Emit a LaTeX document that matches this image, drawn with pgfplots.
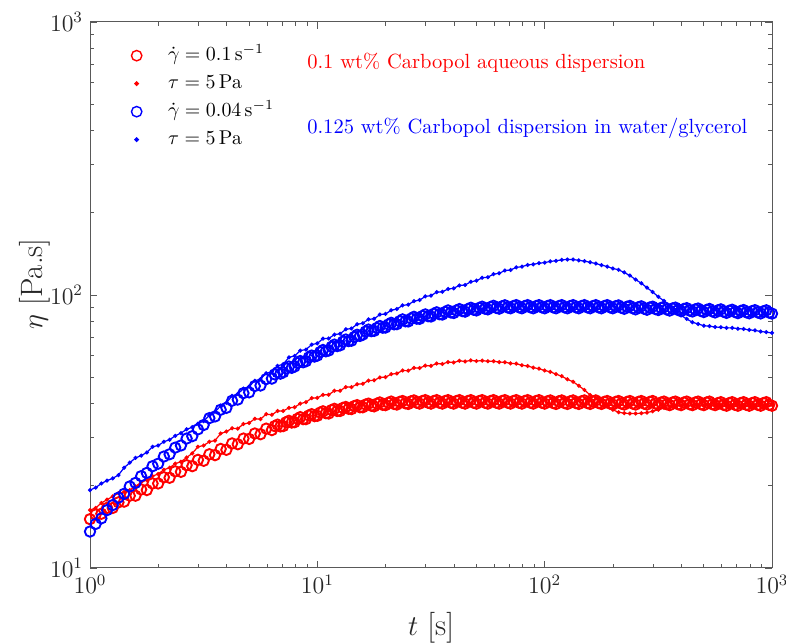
\documentclass[border=0pt]{standalone}
\usepackage{pgfplots}
\usepackage{pgfplotstable}
\pgfplotsset{compat=1.18}
\pgfplotstableread{
t rc rd bc bd
1.000 15.1 16.3 13.6 19.3
1.059 15.7 16.6 14.5 19.7
1.122 15.8 17.3 15.2 20.4
1.189 16.6 17.8 16.3 20.9
1.259 16.6 18.3 17.0 21.3
1.334 17.4 18.8 18.1 21.9
1.413 17.5 19.0 18.7 23.3
1.496 18.4 19.3 19.9 24.3
1.585 18.4 19.9 20.5 25.3
1.679 19.4 20.6 21.7 25.8
1.778 19.3 21.0 22.3 26.5
1.884 20.4 21.7 23.6 27.8
1.995 20.4 22.1 24.1 28.1
2.113 21.5 22.9 25.6 29.0
2.239 21.4 23.3 26.1 29.5
2.371 22.6 24.1 27.6 30.5
2.512 22.5 24.5 28.1 31.2
2.661 23.8 25.4 29.8 32.2
2.818 23.6 26.3 30.4 32.8
2.985 24.9 27.8 32.2 33.8
3.162 24.7 28.1 33.4 34.5
3.350 26.1 29.0 35.4 36.2
3.548 25.9 29.3 35.9 37.3
3.758 27.3 31.1 38.0 39.3
3.981 27.1 31.6 38.6 40.3
4.217 28.6 32.5 41.0 42.7
4.467 28.4 32.4 41.4 43.4
4.732 29.8 33.7 43.7 45.4
5.012 29.7 34.0 44.0 46.2
5.309 31.1 35.2 46.4 48.5
5.623 30.9 35.1 46.6 49.2
5.957 32.4 36.6 49.2 51.7
6.310 32.0 36.4 49.4 52.3
6.683 33.5 37.6 52.1 55.0
7.079 33.1 37.6 52.1 55.8
7.499 34.6 38.6 54.7 59.1
7.943 34.2 38.8 54.7 59.8
8.414 35.7 40.0 57.3 62.6
8.913 35.1 40.5 57.2 63.1
9.441 36.6 41.9 60.0 65.8
10.00 36.1 42.0 60.0 66.5
10.59 37.5 43.1 62.9 69.2
11.22 36.8 43.1 62.6 69.3
11.89 38.3 44.6 65.8 71.6
12.59 37.6 44.6 65.4 72.1
13.34 38.9 46.0 68.7 74.9
14.13 38.2 46.0 68.0 75.4
14.96 39.5 47.1 71.5 78.1
15.85 38.8 47.3 71.6 78.8
16.79 40.0 48.6 74.7 81.4
17.78 39.1 48.7 73.9 81.8
18.84 40.4 49.9 77.0 84.8
19.95 39.5 50.0 76.0 85.2
21.13 40.7 51.3 79.1 87.9
22.39 39.7 51.6 78.2 88.8
23.71 40.9 52.9 81.4 91.6
25.12 39.9 52.8 80.0 92.2
26.61 41.1 54.1 83.2 94.9
28.18 40.0 54.0 81.8 95.8
29.85 41.2 55.1 84.9 98.8
31.62 40.0 55.0 83.4 99.5
33.50 41.2 56.1 86.4 102.4
35.48 40.0 55.9 84.8 102.7
37.58 41.2 56.8 87.8 105.2
39.81 40.0 56.6 85.9 105.8
42.17 41.2 57.4 88.8 108.4
44.67 40.0 57.1 86.9 108.8
47.32 41.2 57.6 89.8 111.8
50.12 40.0 57.3 87.8 112.8
53.09 41.2 57.5 90.6 115.6
56.23 40.0 57.2 88.6 116.2
59.57 41.2 57.2 91.3 119.2
63.10 40.0 56.8 89.1 120.1
66.83 41.2 56.7 91.7 122.9
70.79 40.0 56.2 89.4 123.5
74.99 41.2 56.0 91.8 126.2
79.43 40.0 55.3 89.4 127.0
84.14 41.2 54.9 91.8 128.9
89.13 40.0 54.2 89.4 129.5
94.41 41.2 53.7 91.8 130.8
100.0 40.0 52.9 89.4 131.4
105.9 41.1 52.3 91.8 132.8
112.2 39.9 51.3 89.4 133.4
118.9 41.1 50.4 91.8 134.6
125.9 39.9 49.1 89.4 134.9
133.4 41.1 48.1 91.8 134.9
141.3 39.9 46.5 89.4 133.9
149.6 41.1 44.9 91.8 133.1
158.5 39.9 43.0 89.4 131.7
167.9 41.1 42.0 91.8 130.4
177.8 39.9 40.8 89.4 128.7
188.4 40.9 39.4 91.8 127.1
199.5 39.7 38.0 89.4 125.1
211.3 40.9 37.2 91.6 123.7
223.9 39.7 36.9 89.0 120.9
237.1 40.9 36.8 91.2 117.8
251.2 39.7 36.8 88.6 113.9
266.1 40.9 36.9 90.9 110.4
281.8 39.7 37.1 88.3 106.4
298.5 40.9 37.5 90.6 102.6
316.2 39.7 38.0 88.1 98.5
335.0 40.7 38.6 90.3 95.1
354.8 39.5 39.0 87.7 91.4
375.8 40.7 39.2 89.9 88.1
398.1 39.5 39.3 87.3 84.2
421.7 40.7 39.4 89.5 81.7
446.7 39.5 39.4 87.0 79.5
473.2 40.7 39.5 89.2 78.3
501.2 39.5 39.4 86.6 77.2
530.9 40.7 39.5 88.9 76.9
562.3 39.5 39.5 86.3 76.3
595.7 40.5 39.5 88.6 76.2
631.0 39.3 39.6 86.0 75.8
668.3 40.5 39.5 88.3 75.8
707.9 39.3 39.6 85.8 75.3
749.9 40.5 39.5 88.1 75.1
794.3 39.3 39.6 85.7 74.5
841.4 40.5 39.5 88.0 74.2
891.3 39.3 39.6 85.6 73.5
944.1 40.5 39.5 87.9 73.1
1000 39.3 39.6 85.5 72.6
}\datatable
\pgfplotstableread{
t rc bc
6.494 33.1 51.2
6.879 33.0 51.5
7.287 34.2 53.8
7.718 34.1 54.1
8.175 35.2 56.4
8.660 35.1 56.7
9.173 36.2 59.1
9.716 36.0 59.5
10.29 37.1 61.8
10.90 36.9 62.2
11.55 37.9 64.6
12.23 37.6 65.0
12.96 38.6 67.5
13.72 38.3 67.8
14.54 39.2 70.2
15.40 38.8 70.8
16.31 39.7 73.5
17.28 39.3 73.7
18.30 40.0 75.8
19.39 39.6 75.9
20.54 40.3 78.0
21.75 39.9 78.1
23.04 40.6 80.2
24.41 40.1 80.1
25.85 40.8 82.0
27.38 40.3 81.9
29.01 40.9 83.8
30.73 40.3 83.6
32.55 40.9 85.4
34.47 40.3 85.0
36.52 40.9 86.7
38.68 40.3 86.3
40.97 40.9 87.8
43.40 40.3 87.3
45.97 40.9 88.8
48.70 40.3 88.3
51.58 40.9 89.7
54.64 40.3 89.1
57.88 40.9 90.4
61.31 40.3 89.7
64.94 40.9 90.9
68.79 40.3 90.0
72.87 40.9 91.1
77.18 40.3 90.1
81.75 40.9 91.1
86.60 40.3 90.1
91.73 40.9 91.1
97.16 40.3 90.1
102.9 40.8 91.1
109.0 40.2 90.1
115.5 40.8 91.1
122.3 40.2 90.1
129.6 40.8 91.1
137.2 40.2 90.1
145.4 40.8 91.1
154.0 40.2 90.1
163.1 40.8 91.1
172.8 40.2 90.1
183.0 40.6 91.1
193.9 40.0 90.1
205.4 40.6 91.0
217.5 40.0 89.8
230.4 40.6 90.6
244.1 40.0 89.4
258.5 40.6 90.2
273.8 40.0 89.1
290.1 40.6 90.0
307.3 40.0 88.8
325.5 40.4 89.7
344.7 39.8 88.5
365.2 40.4 89.3
386.8 39.8 88.1
409.7 40.4 88.9
434.0 39.8 87.7
459.7 40.4 88.6
487.0 39.8 87.4
515.8 40.4 88.2
546.4 39.8 87.1
578.8 40.2 87.9
613.1 39.6 86.8
649.4 40.2 87.6
687.9 39.6 86.6
728.7 40.2 87.4
771.8 39.6 86.4
817.5 40.2 87.3
866.0 39.6 86.3
917.3 40.2 87.2
971.6 39.6 86.2
}\extratable
\begin{document}
\begin{tikzpicture}
\begin{axis}[
  name=ax,
  scale only axis,
  width=341bp, height=273bp,
  xmode=log, ymode=log,
  xmin=1, xmax=1000, ymin=10, ymax=1000,
  xtick={1,10,100,1000},
  ytick={10,100,1000},
  tick align=inside,
  major tick length=3.5bp,
  minor tick length=2bp,
  axis line style={black!65, line width=0.5bp},
  every tick/.style={black!65, line width=0.4bp},
  tick label style={font=\fontsize{11.5}{13}\selectfont, text=black!85},
  label style={font=\fontsize{15.5}{18}\selectfont, text=black!85},
  xlabel={$t$ [s]},
  ylabel={$\eta$ [Pa.s]},
  xlabel style={at={(axis description cs:0.5,-0.11)}, anchor=center},
  ylabel style={at={(axis description cs:-0.081,0.52)}, anchor=center},
  legend style={at={(axis description cs:0.03,0.972)}, anchor=north west,
    draw=none, fill=none, font=\fontsize{10}{12}\selectfont,
    nodes={inner sep=1.5bp, text height=8bp, text depth=3bp}},
  legend cell align=left,
]
\addplot[only marks, mark=o, red, mark size=2.6bp, line width=0.95bp,
  legend image code/.code={\draw[line width=0.7bp] (0.35cm,0cm) circle (2.6bp); \path[draw=none, fill=none] (0cm,0cm) (0.85cm,0cm);}] table[x=t, y=rc] {\datatable};
\addlegendentry{$\dot{\gamma} = 0.1\,\mathrm{s}^{-1}$}
\addplot[only marks, mark=o, red, mark size=2.6bp, line width=0.95bp, forget plot] table[x=t, y=rc] {\extratable};
\addplot[red, mark=*, mark size=0.7bp, line width=0.6bp,
  legend image code/.code={\fill (0.35cm,0cm) circle (0.9bp); \path[draw=none, fill=none] (0cm,0cm) (0.85cm,0cm);}] table[x=t, y=rd] {\datatable};
\addlegendentry{$\tau = 5\,\mathrm{Pa}$}
\addplot[only marks, mark=o, blue, mark size=2.6bp, line width=0.95bp,
  legend image code/.code={\draw[line width=0.7bp] (0.35cm,0cm) circle (2.6bp); \path[draw=none, fill=none] (0cm,0cm) (0.85cm,0cm);}] table[x=t, y=bc] {\datatable};
\addlegendentry{$\dot{\gamma} = 0.04\,\mathrm{s}^{-1}$}
\addplot[only marks, mark=o, blue, mark size=2.6bp, line width=0.95bp, forget plot] table[x=t, y=bc] {\extratable};
\addplot[blue, mark=*, mark size=0.7bp, line width=0.6bp,
  legend image code/.code={\fill (0.35cm,0cm) circle (0.9bp); \path[draw=none, fill=none] (0cm,0cm) (0.85cm,0cm);}] table[x=t, y=bd] {\datatable};
\addlegendentry{$\tau = 5\,\mathrm{Pa}$}
\node[anchor=west, inner sep=0pt, text=red, font=\fontsize{10.3}{12}\selectfont] at (rel axis cs:0.318,0.925) {0.1 wt\% Carbopol aqueous dispersion};
\node[anchor=west, inner sep=0pt, text=blue, font=\fontsize{10.3}{12}\selectfont] at (rel axis cs:0.318,0.806) {0.125 wt\% Carbopol dispersion in water/glycerol};
\end{axis}
\pgfresetboundingbox
\path[use as bounding box] ([xshift=-45bp,yshift=-37.5bp]ax.south west) rectangle ([xshift=7bp,yshift=11bp]ax.north east);
\end{tikzpicture}
\end{document}
